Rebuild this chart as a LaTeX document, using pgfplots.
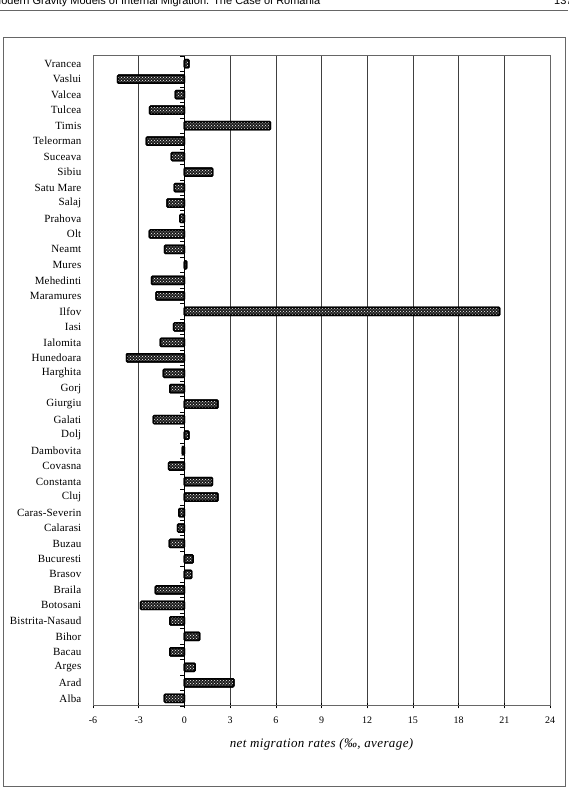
\documentclass[border=0pt]{standalone}
\usepackage{pgfplots}
\usepackage{pgfplotstable}
\pgfplotsset{compat=1.18}
\usetikzlibrary{patterns}
\usepackage{fontspec}
\setmainfont{Liberation Serif}
\newfontfamily\headfont{Liberation Sans}

% Net migration rates by county (per mille, average)
\pgfplotstableread[col sep=comma]{
idx,county,rate
0,Alba,-1.31
1,Arad,3.24
2,Arges,0.70
3,Bacau,-0.96
4,Bihor,1.00
5,Bistrita-Nasaud,-0.96
6,Botosani,-2.87
7,Braila,-1.90
8,Brasov,0.48
9,Bucuresti,0.57
10,Buzau,-0.98
11,Calarasi,-0.44
12,Caras-Severin,-0.37
13,Cluj,2.20
14,Constanta,1.84
15,Covasna,-1.03
16,Dambovita,-0.13
17,Dolj,0.30
18,Galati,-2.04
19,Giurgiu,2.20
20,Gorj,-0.96
21,Harghita,-1.38
22,Hunedoara,-3.80
23,Ialomita,-1.58
24,Iasi,-0.70
25,Ilfov,20.70
26,Maramures,-1.86
27,Mehedinti,-2.15
28,Mures,0.15
29,Neamt,-1.30
30,Olt,-2.30
31,Prahova,-0.30
32,Salaj,-1.14
33,Satu Mare,-0.66
34,Sibiu,1.86
35,Suceava,-0.85
36,Teleorman,-2.50
37,Timis,5.65
38,Tulcea,-2.28
39,Valcea,-0.60
40,Vaslui,-4.38
41,Vrancea,0.30
}\rates

\begin{document}
\begin{tikzpicture}
\useasboundingbox (0pt,0pt) rectangle (568pt,790pt);
% running head of the page
\node[anchor=base west, inner sep=0pt, font=\headfont\fontsize{11}{13}\selectfont]
  at (-8pt,785pt) {Modern Gravity Models of Internal Migration. The Case of Romania};
\node[anchor=base west, inner sep=0pt, font=\headfont\fontsize{11}{13}\selectfont]
  at (554pt,785pt) {137};
\draw[black!60, line width=0.8pt] (0pt,780pt) -- (568pt,780pt);
% frame around the figure
\draw[black!60, line width=1pt] (3pt,3pt) rectangle (565pt,752pt);

\begin{axis}[
  at={(93pt,84pt)}, anchor=south west,
  width=457pt, height=650pt, scale only axis,
  xbar, bar width=8pt,
  xmin=-6, xmax=24, ymin=-0.5, ymax=41.5,
  xtick={-6,-3,...,24},
  ytick=data,
  yticklabels from table={\rates}{county},
  xtick pos=bottom, ytick pos=left,
  tick align=center,
  major tick length=5pt,
  ytick style={draw=none},
  xtick style={black, line width=0.6pt},
  xmajorgrids,
  grid style={black!75, line width=0.6pt},
  axis line style={black!60, line width=1pt},
  /pgf/number format/assume math mode=true,
  xticklabel style={font=\fontsize{10}{12}\selectfont, yshift=-5pt},
  yticklabel style={font=\fontsize{11}{13}\selectfont\addfontfeature{LetterSpace=1.5}, inner sep=0pt, xshift=-9pt},
  xlabel={net migration rates (‰, average)},
  xlabel style={font=\fontsize{13}{15}\selectfont\itshape\addfontfeature{LetterSpace=3},
    at={(axis description cs:0.5,0)}, anchor=center, yshift=-38pt},
]
\addplot[draw=black, line width=1.5pt, rounded corners=1pt,
  pattern=crosshatch dots, pattern color=white,
  preaction={fill=black!88}]
  table[x=rate, y=idx] {\rates};
\end{axis}

% short ticks on the zero line between counties
\begin{axis}[
  at={(93pt,84pt)}, anchor=south west,
  width=457pt, height=650pt, scale only axis,
  xmin=-6, xmax=24, ymin=-0.5, ymax=41.5,
  axis x line=none, axis y line=middle,
  y axis line style={-, black, line width=0.6pt},
  ytick={-0.5,0.5,...,41.5}, yticklabels={},
  tick align=outside, major tick length=4pt,
  ytick style={black, line width=0.6pt},
]
\end{axis}
\end{tikzpicture}
\end{document}
